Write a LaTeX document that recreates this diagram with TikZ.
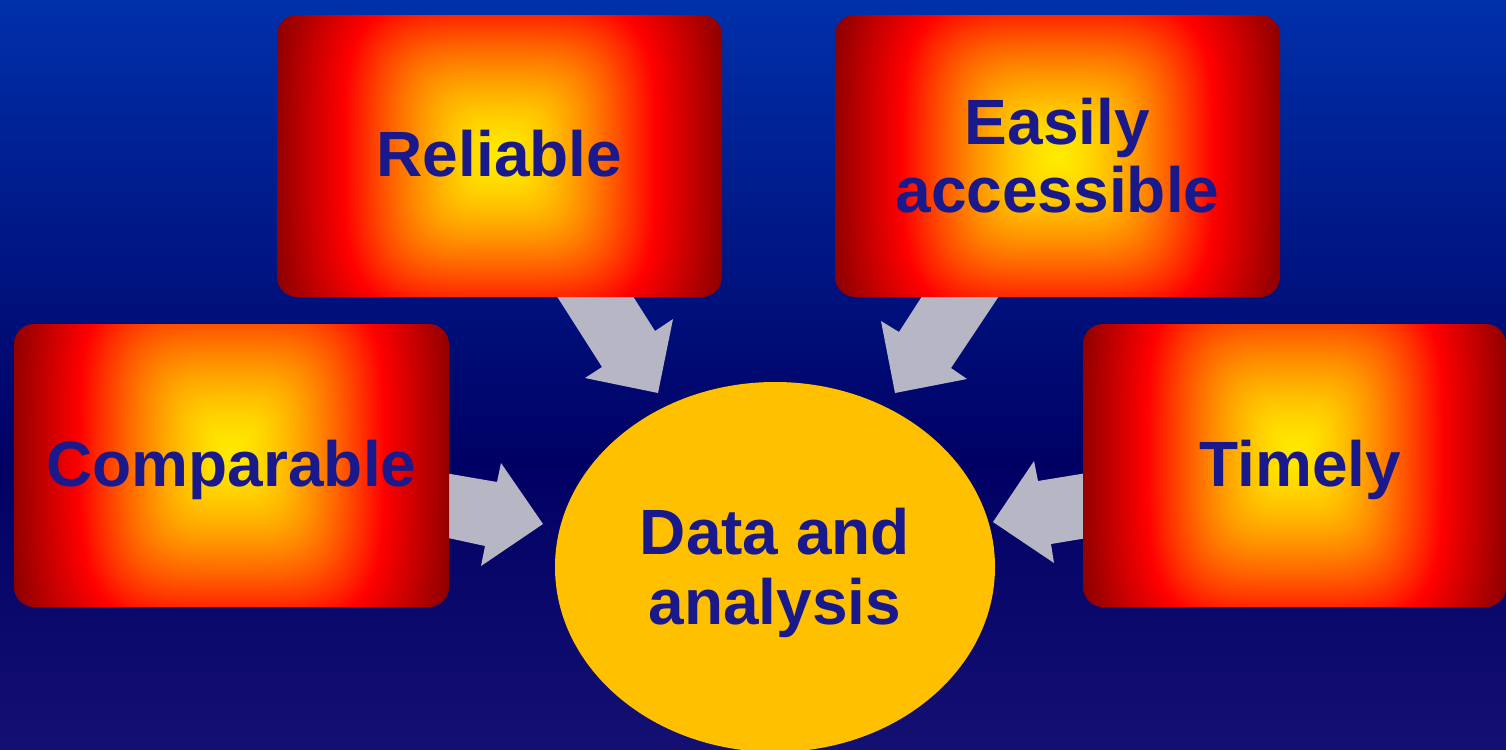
\documentclass[tikz,border=0pt]{standalone}
\usepackage{fontspec}
\setmainfont{Liberation Sans}
\usetikzlibrary{shapes.geometric}
\definecolor{bgT}{RGB}{0,48,170}
\definecolor{bgM}{RGB}{0,0,100}
\definecolor{bgB}{RGB}{20,16,114}
\definecolor{txtblue}{RGB}{25,25,140}
\definecolor{gold}{RGB}{255,192,0}
\definecolor{arrowgrey}{RGB}{182,182,196}
\pgfdeclareverticalshading{bgsh}{100bp}{color(0bp)=(bgB); color(25bp)=(bgB); color(44.3bp)=(bgM); color(75bp)=(bgT); color(100bp)=(bgT)}
% glow: colour depends on a squarish distance from the centre
\pgfdeclarefunctionalshading{glow}{\pgfpointorigin}{\pgfpoint{100bp}{100bp}}{}{
  50 sub abs 25 div 0.62 mul
  dup mul dup mul
  exch 50 sub abs 25 div
  dup mul dup mul add
  sqrt sqrt
  dup 0.7 sub 1.4 mul 1 exch sub
  dup 1 gt {pop 1} if
  dup 0.45 lt {pop 0.45} if
  exch
  0.7 div dup 1 gt {pop 1} if
  dup sqrt mul 1 exch sub 0.918 mul
  0
}
\tikzset{
  lbl/.style={font=\bfseries\fontsize{32pt}{34pt}\selectfont, text=txtblue, align=center},
  oneline/.style={text height=20.5pt, text depth=0pt},
  glowbox/.style={lbl, rectangle, rounded corners=10pt, inner sep=0pt,
    path picture={\shade[shading=glow] (path picture bounding box.south west) rectangle ([yshift=#1]path picture bounding box.north east);}},
  glowbox/.default=0pt,
  blockarrow/.style={fill=arrowgrey, draw=none},
  hub/.style={ellipse, fill=gold, inner sep=0pt, minimum width=220pt, minimum height=185pt},
  hublbl/.style={lbl, font=\bfseries\fontsize{32pt}{35pt}\selectfont}
}
\begin{document}
\begin{tikzpicture}[x=0.5pt,y=-0.5pt]
\useasboundingbox (0,0) rectangle (1506,750);
\shade[shading=bgsh] (0,0) rectangle (1506,750);
% block arrows
\fill[blockarrow] (551,287) -- (602,367) -- (585,378) -- (658,393) -- (673,319) -- (655,331) -- (627,287) -- cycle;
\fill[blockarrow] (1005,287) -- (951,368) -- (967,379) -- (895,393) -- (881,321) -- (899,332) -- (928,287) -- cycle;
\fill[blockarrow] (439,472) -- (497,482) -- (501,463) -- (543,524) -- (481,566) -- (485,546) -- (439,536) -- cycle;
\fill[blockarrow] (1093,472) -- (1038,481) -- (1034,461) -- (993,522) -- (1054,563) -- (1051,544) -- (1093,537) -- cycle;
% boxes
\node[glowbox, oneline, minimum width=222.5pt, minimum height=141pt] (rel) at (499.5,156) {Reliable};
\node[glowbox, minimum width=222.5pt, minimum height=141pt] (eas) at (1057.5,156) {Easily\\accessible};
\node[glowbox=12pt, oneline, minimum width=217.5pt, minimum height=141.5pt] (cmp) at (231.5,465.5) {Comparable};
\node[glowbox=12pt, oneline, minimum width=211.5pt, minimum height=141.5pt] (tim) at (1294.5,465.5) {\hspace*{6pt}Timely};
\node[hub] (data) at (775,567) {};
\node[hublbl] (datalbl) at (775,573) {Data and\\analysis};
\end{tikzpicture}
\end{document}
